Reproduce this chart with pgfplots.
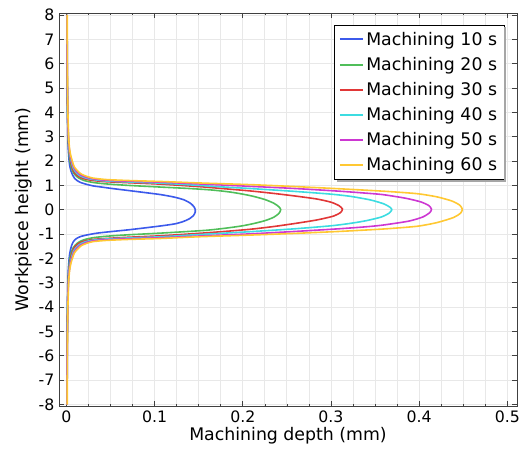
\documentclass[border=0pt]{standalone}
\usepackage{fontspec}
\setmainfont{DejaVu Sans}
\usepackage{pgfplots}
\pgfplotsset{compat=1.18}

\definecolor{cblue}{RGB}{60,90,235}
\definecolor{cgreen}{RGB}{80,190,90}
\definecolor{cred}{RGB}{225,55,55}
\definecolor{ccyan}{RGB}{60,220,225}
\definecolor{cmagenta}{RGB}{205,55,210}
\definecolor{cyellow}{RGB}{255,200,50}

\begin{document}
\begin{tikzpicture}
\begin{axis}[
    name=ax,
    scale only axis,
    width=343.5pt, height=294.75pt,
    xmin=-0.0085, xmax=0.511,
    ymin=-8.06, ymax=8.08,
    xtick={0,0.1,0.2,0.3,0.4,0.5},
    xticklabels={0,0.1,0.2,0.3,0.4,0.5},
    ytick={-8,-7,...,8},
    yticklabels={-8,-7,-6,-5,-4,-3,-2,-1,0,1,2,3,4,5,6,7,8},
    minor x tick num=3,
    tick align=inside,
    major tick length=3.5pt,
    minor tick length=1.5pt,
    xmajorgrids, xminorgrids, ymajorgrids,
    grid style={line width=0.6pt, draw=black!9},
    minor grid style={line width=0.6pt, draw=black!9},
    axis line style={draw=black!75, line width=0.6pt},
    every tick/.style={draw=black!75, line width=0.5pt},
    tick label style={font=\fontsize{11.8}{13}\selectfont},
    label style={font=\fontsize{13}{15}\selectfont},
    xlabel={Machining depth (mm)},
    ylabel={Workpiece height (mm)},
    xlabel style={yshift=3pt},
    ylabel style={yshift=-2pt},
    legend style={at={(0.9716,0.9695)}, anchor=north east, name=leg,
      draw=none, fill=white,
      font=\fontsize{13}{15}\selectfont, row sep=3.4pt,
      inner sep=3pt},
    legend cell align=left,
    legend image code/.code={\draw[#1, line width=1.5pt] (0pt,0pt) -- (17pt,0pt);},
    every axis plot/.append style={line width=1.2pt},
]
\addplot[cblue, smooth, tension=0.4] coordinates {
(0.0005,8)(0.0006,6)(0.0008,5)(0.001,4)(0.0015,3)(0.002,2.5)(0.003,2)(0.004,1.75)(0.005,1.6)(0.007,1.42)(0.009,1.3)(0.012,1.2)(0.016,1.12)(0.022,1.05)(0.03,0.98)(0.04,0.93)(0.05,0.88)(0.07,0.79)(0.09,0.70)(0.107,0.62)(0.122,0.52)(0.133,0.41)(0.140,0.28)(0.144,0.15)(0.146,0.02)(0.146,-0.10)(0.144,-0.24)(0.139,-0.38)(0.132,-0.49)(0.123,-0.58)(0.108,-0.66)(0.088,-0.75)(0.069,-0.83)(0.05,-0.90)(0.035,-0.96)(0.024,-1.03)(0.016,-1.10)(0.011,-1.19)(0.008,-1.3)(0.006,-1.45)(0.0045,-1.65)(0.0035,-1.85)(0.003,-2)(0.002,-2.5)(0.0015,-3)(0.001,-4)(0.0008,-5)(0.0006,-6)(0.0005,-8)
};
\addplot[cgreen, smooth, tension=0.4] coordinates {
(0.0006,8)(0.0007,6)(0.0009,5)(0.0012,4)(0.0018,3)(0.0025,2.5)(0.0035,2.1)(0.005,1.8)(0.007,1.58)(0.010,1.42)(0.014,1.3)(0.02,1.2)(0.03,1.12)(0.045,1.06)(0.07,1.0)(0.107,0.93)(0.14,0.87)(0.165,0.81)(0.185,0.73)(0.200,0.64)(0.212,0.55)(0.225,0.42)(0.235,0.27)(0.241,0.12)(0.243,0.0)(0.241,-0.15)(0.235,-0.31)(0.225,-0.45)(0.212,-0.57)(0.198,-0.67)(0.180,-0.76)(0.160,-0.84)(0.135,-0.90)(0.107,-0.96)(0.07,-1.03)(0.045,-1.09)(0.03,-1.15)(0.02,-1.23)(0.014,-1.33)(0.010,-1.45)(0.007,-1.6)(0.005,-1.82)(0.0035,-2.1)(0.0025,-2.5)(0.0018,-3)(0.0012,-4)(0.0009,-5)(0.0007,-6)(0.0006,-8)
};
\addplot[cred, smooth, tension=0.4] coordinates {
(0.0006,8)(0.0008,6)(0.001,5)(0.0013,4)(0.002,3)(0.0028,2.5)(0.004,2.15)(0.0055,1.85)(0.0075,1.63)(0.010,1.48)(0.014,1.36)(0.02,1.27)(0.03,1.2)(0.045,1.15)(0.07,1.11)(0.107,1.05)(0.15,0.95)(0.18,0.86)(0.209,0.77)(0.235,0.67)(0.260,0.56)(0.284,0.44)(0.300,0.31)(0.309,0.17)(0.313,0.03)(0.311,-0.11)(0.303,-0.26)(0.284,-0.42)(0.260,-0.56)(0.235,-0.69)(0.209,-0.80)(0.18,-0.89)(0.15,-0.97)(0.107,-1.07)(0.07,-1.13)(0.045,-1.18)(0.03,-1.22)(0.02,-1.29)(0.014,-1.38)(0.010,-1.5)(0.0075,-1.65)(0.0055,-1.87)(0.004,-2.15)(0.0028,-2.5)(0.002,-3)(0.0013,-4)(0.001,-5)(0.0008,-6)(0.0006,-8)
};
\addplot[ccyan, smooth, tension=0.4] coordinates {
(0.0007,8)(0.0009,6)(0.0011,5)(0.0014,4)(0.0021,3)(0.003,2.5)(0.0042,2.2)(0.006,1.9)(0.008,1.68)(0.011,1.52)(0.015,1.4)(0.021,1.31)(0.03,1.24)(0.045,1.18)(0.07,1.14)(0.107,1.09)(0.15,1.0)(0.18,0.93)(0.209,0.87)(0.26,0.75)(0.30,0.64)(0.322,0.55)(0.345,0.40)(0.360,0.24)(0.367,0.10)(0.369,0.0)(0.366,-0.14)(0.357,-0.30)(0.340,-0.45)(0.322,-0.56)(0.30,-0.66)(0.26,-0.78)(0.209,-0.90)(0.18,-0.96)(0.15,-1.02)(0.107,-1.11)(0.07,-1.16)(0.045,-1.2)(0.03,-1.25)(0.021,-1.32)(0.015,-1.42)(0.011,-1.55)(0.008,-1.7)(0.006,-1.92)(0.0042,-2.2)(0.003,-2.5)(0.0021,-3)(0.0014,-4)(0.0011,-5)(0.0009,-6)(0.0007,-8)
};
\addplot[cmagenta, smooth, tension=0.4] coordinates {
(0.0007,8)(0.0009,6)(0.0011,5)(0.0015,4)(0.0022,3)(0.0032,2.5)(0.0045,2.2)(0.0065,1.93)(0.0085,1.72)(0.012,1.55)(0.016,1.43)(0.022,1.34)(0.03,1.27)(0.045,1.21)(0.07,1.17)(0.107,1.13)(0.15,1.06)(0.209,0.96)(0.26,0.87)(0.31,0.76)(0.340,0.68)(0.359,0.62)(0.385,0.47)(0.402,0.32)(0.411,0.17)(0.414,0.02)(0.412,-0.12)(0.404,-0.30)(0.388,-0.47)(0.359,-0.63)(0.340,-0.70)(0.31,-0.78)(0.26,-0.89)(0.209,-0.99)(0.15,-1.08)(0.107,-1.15)(0.07,-1.19)(0.045,-1.23)(0.03,-1.28)(0.022,-1.35)(0.016,-1.45)(0.012,-1.57)(0.0085,-1.74)(0.0065,-1.95)(0.0045,-2.2)(0.0032,-2.5)(0.0022,-3)(0.0015,-4)(0.0011,-5)(0.0009,-6)(0.0007,-8)
};
\addplot[cyellow, smooth, tension=0.4] coordinates {
(0.0008,8)(0.001,6)(0.0012,5)(0.0016,4)(0.0024,3)(0.0035,2.5)(0.005,2.2)(0.007,1.95)(0.009,1.75)(0.013,1.58)(0.017,1.46)(0.023,1.37)(0.03,1.3)(0.045,1.24)(0.07,1.2)(0.107,1.16)(0.15,1.10)(0.209,1.03)(0.26,0.95)(0.31,0.86)(0.36,0.76)(0.3975,0.66)(0.42,0.53)(0.437,0.36)(0.446,0.19)(0.449,0.02)(0.447,-0.14)(0.439,-0.32)(0.42,-0.53)(0.3975,-0.68)(0.36,-0.79)(0.31,-0.89)(0.26,-0.97)(0.209,-1.04)(0.15,-1.11)(0.107,-1.18)(0.07,-1.22)(0.045,-1.26)(0.03,-1.31)(0.023,-1.38)(0.017,-1.47)(0.013,-1.6)(0.009,-1.77)(0.007,-1.97)(0.005,-2.2)(0.0035,-2.5)(0.0024,-3)(0.0016,-4)(0.0012,-5)(0.001,-6)(0.0008,-8)
};
\legend{Machining 10 s, Machining 20 s, Machining 30 s, Machining 40 s, Machining 50 s, Machining 60 s}
\end{axis}
% legend frame with a grey shadow on its lower and right edges
\draw[black, line width=0.6pt] (leg.south west) rectangle (leg.north east);
\fill[black!35] ([shift={(1.8pt,-0.3pt)}]leg.south west) rectangle ([shift={(1.8pt,-1.8pt)}]leg.south east);
\fill[black!35] ([shift={(0.3pt,-1.8pt)}]leg.south east) rectangle ([shift={(1.8pt,-1.8pt)}]leg.north east);
\pgfresetboundingbox
\path ([shift={(-44.25pt,-35.25pt)}]ax.south west) rectangle ([shift={(3pt,9.75pt)}]ax.north east);
\end{tikzpicture}
\end{document}
